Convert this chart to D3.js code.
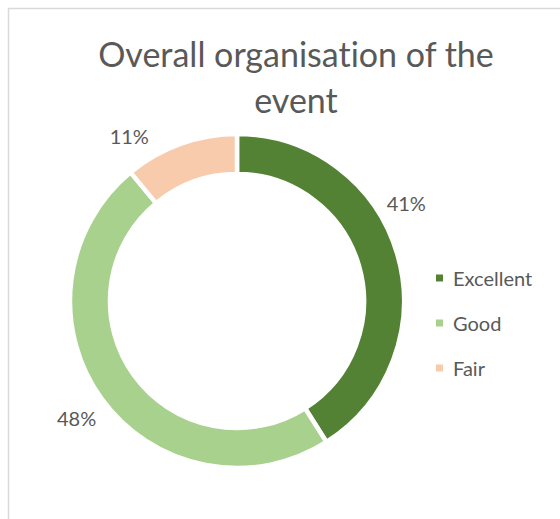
<!DOCTYPE html>
<html>
<head>
<meta charset="utf-8">
<script src="https://cdn.jsdelivr.net/npm/d3@7"></script>
<style>
  html, body { margin: 0; padding: 0; background: #fff; }
  svg { display: block; }
  text {
    font-family: Lato, "Open Sans", sans-serif;
    fill: #595959;
    font-variant-ligatures: none;
  }
</style>
</head>
<body>
<svg id="chart" width="560" height="519"></svg>
<script>
// chart data
const categories = ["Excellent", "Good", "Fair"];
const values = [41, 48, 11];
const colours = ["#548235", "#A9D18E", "#F8CBAD"];
const titleLines = ["Overall organisation of the", "event"];

// labels were dragged off the ring by hand, so nudge them round (degrees)
const labelNudge = [-14, 0, -13];

const cx = 237;
const cy = 301;
const outerR = 167;
const innerR = 127;
const labelR = 197;

const svg = d3.select("#chart");

// chart area border, runs off the right and bottom edge
svg
  .append("rect")
  .attr("x", 8.5)
  .attr("y", 8.5)
  .attr("width", 620)
  .attr("height", 620)
  .style("fill", "#fff")
  .style("stroke", "#D9D9D9")
  .style("stroke-width", 1.5);

// title
svg
  .append("text")
  .attr("text-anchor", "middle")
  .style("font-size", "34px")
  .selectAll("tspan")
  .data(titleLines)
  .join("tspan")
  .attr("x", 296)
  .attr("y", (d, i) => 67 + i * 46)
  .text((d) => d);

const pie = d3
  .pie()
  .sort(null)
  .value((d) => d);

const arcs = pie(values);

const arc = d3.arc().innerRadius(innerR).outerRadius(outerR);

const g = svg.append("g").attr("transform", `translate(${cx},${cy})`);

g.selectAll("path")
  .data(arcs)
  .join("path")
  .attr("d", arc)
  .style("fill", (d, i) => colours[i])
  .style("stroke", "#fff")
  .style("stroke-width", 4.5);

const total = d3.sum(values);

// percentage labels
g.selectAll("text.pct")
  .data(arcs)
  .join("text")
  .attr("class", "pct")
  .attr("text-anchor", "middle")
  .attr("dominant-baseline", "central")
  .style("font-size", "20px")
  .attr("transform", (d, i) => {
    const a = (d.startAngle + d.endAngle) / 2 + (labelNudge[i] * Math.PI) / 180;
    return `translate(${labelR * Math.sin(a) - 1},${-labelR * Math.cos(a) + 1})`;
  })
  .text((d) => Math.round((d.value / total) * 100) + "%");

// legend
const legendY = d3.scalePoint().domain(categories).range([278, 368]);

const legend = svg
  .selectAll("g.legend")
  .data(categories)
  .join("g")
  .attr("class", "legend")
  .attr("transform", (d) => `translate(436,${legendY(d)})`);

legend
  .append("rect")
  .attr("x", 0)
  .attr("y", -3.5)
  .attr("width", 7)
  .attr("height", 7)
  .style("fill", (d, i) => colours[i]);

legend
  .append("text")
  .attr("x", 17)
  .attr("dominant-baseline", "central")
  .style("font-size", "20px")
  .text((d) => d);
</script>
</body>
</html>
